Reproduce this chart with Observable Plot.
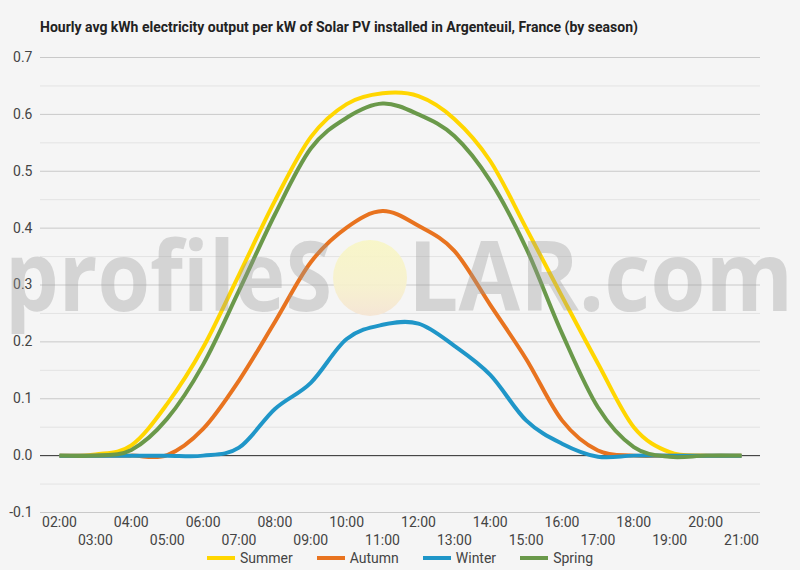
<!DOCTYPE html>
<html>
<head>
<meta charset="utf-8">
<script src="https://cdn.jsdelivr.net/npm/d3@7"></script>
<script src="https://cdn.jsdelivr.net/npm/@observablehq/plot@0.6"></script>
<style>
  html, body { margin: 0; padding: 0; background: #f5f5f5; width: 800px; height: 570px; overflow: hidden; }
  #title { height: 45px; box-sizing: border-box; padding: 19px 0 0 40px; font: bold 14px Roboto, sans-serif; line-height: 17px; color: #222; white-space: nowrap; }
  #chart svg { display: block; }
  #legend { height: 16px; display: flex; justify-content: center; align-items: center; font: 14px Roboto, sans-serif; color: #444; line-height: 16px; }
  .item { display: flex; align-items: center; margin: 0 12px; }
  .sw { width: 28px; height: 4px; margin-right: 5px; }
</style>
</head>
<body>
<div id="title">Hourly avg kWh electricity output per kW of Solar PV installed in Argenteuil, France (by season)</div>
<div id="chart"></div>
<div id="legend"></div>
<script>
const hours = ["02:00","03:00","04:00","05:00","06:00","07:00","08:00","09:00","10:00","11:00","12:00","13:00","14:00","15:00","16:00","17:00","18:00","19:00","20:00","21:00"];
const evenHours = ["02:00","04:00","06:00","08:00","10:00","12:00","14:00","16:00","18:00","20:00"];
const oddHours = ["03:00","05:00","07:00","09:00","11:00","13:00","15:00","17:00","19:00","21:00"];
const seasons = ["Summer","Autumn","Winter","Spring"];
const seasonColors = ["#ffd600","#e8731f","#1f96c8","#6a994a"];
const summer = [0, 0.002, 0.018, 0.091, 0.19, 0.318, 0.448, 0.56, 0.618, 0.637, 0.632, 0.592, 0.518, 0.40, 0.28, 0.162, 0.05, 0.006, 0, 0];
const autumn = [0, 0, 0, 0.001, 0.047, 0.132, 0.235, 0.34, 0.401, 0.43, 0.404, 0.36, 0.265, 0.17, 0.062, 0.009, 0, 0, 0, 0];
const winter = [0, 0, 0, 0, 0, 0.014, 0.082, 0.128, 0.205, 0.23, 0.232, 0.193, 0.142, 0.062, 0.021, -0.002, 0, 0, 0, 0];
const spring = [0, 0, 0.01, 0.065, 0.16, 0.29, 0.424, 0.54, 0.594, 0.619, 0.60, 0.562, 0.483, 0.365, 0.215, 0.085, 0.015, -0.002, 0, 0];
const yTicks = [-0.1, 0, 0.1, 0.2, 0.3, 0.4, 0.5, 0.6, 0.7];
const yMinor = [-0.05, 0.05, 0.15, 0.25, 0.35, 0.45, 0.55, 0.65];

const hourNum = h => +h.slice(0, 2);
const hourLabel = n => String(n).padStart(2, "0") + ":00";
const series = [summer, autumn, winter, spring];
const data = seasons.flatMap((s, i) => series[i].map((v, j) => ({season: s, hour: hourNum(hours[j]), value: v})));
const first = hourNum(hours[0]), last = hourNum(hours[hours.length - 1]);

const chart = Plot.plot({
  width: 800,
  height: 505,
  marginTop: 12,
  marginBottom: 38,
  marginLeft: 40,
  marginRight: 40,
  style: {background: "transparent", fontFamily: "Roboto, sans-serif"},
  x: {domain: [first - 0.53, last + 0.53], axis: null, label: null},
  y: {domain: [-0.1, 0.7], axis: null, label: null},
  color: {domain: seasons, range: seasonColors},
  marks: [
    Plot.ruleY(yMinor, {stroke: "#e3e3e3", strokeWidth: 1}),
    Plot.ruleY(yTicks, {stroke: "#c9c9c9", strokeWidth: 1}),
    Plot.ruleY([0], {stroke: "#333", strokeWidth: 1}),
    Plot.axisY({ticks: yTicks, tickSize: 0, tickPadding: 8, tickFormat: d => d.toFixed(1), fontSize: 14, fill: "#444", label: null}),
    Plot.axisX({ticks: evenHours.map(hourNum), tickSize: 0, tickPadding: 5, tickFormat: hourLabel, fontSize: 14, fill: "#444", label: null}),
    Plot.axisX({ticks: oddHours.map(hourNum), tickSize: 0, tickPadding: 23, tickFormat: hourLabel, fontSize: 14, fill: "#444", label: null}),
    Plot.line(data, {x: "hour", y: "value", z: "season", stroke: "season", strokeWidth: 4, curve: "cardinal", strokeLinecap: "butt"})
  ]
});
document.getElementById("chart").appendChild(chart);

// watermark
const svg = d3.select(chart);
const defs = svg.append("defs");
const grad = defs.append("linearGradient").attr("id", "sun").attr("x1", 0).attr("y1", 0).attr("x2", 0).attr("y2", 1);
grad.append("stop").attr("offset", "0%").attr("stop-color", "#f8f6c4");
grad.append("stop").attr("offset", "60%").attr("stop-color", "#f7f1cc");
grad.append("stop").attr("offset", "100%").attr("stop-color", "#f5e4d2");
const wm = svg.append("g").attr("pointer-events", "none").attr("text-anchor", "start");
wm.append("ellipse").attr("cx", 370).attr("cy", 233).attr("rx", 37).attr("ry", 38).attr("fill", "url(#sun)").attr("opacity", 0.9);
const wmStyle = t => t.attr("font-family", "'Open Sans', sans-serif").attr("font-weight", 700).attr("font-size", 96)
  .attr("fill", "#999").attr("fill-opacity", 0.35).attr("text-anchor", "start").attr("lengthAdjust", "spacingAndGlyphs");
wm.append("text").text("profileS").attr("x", 5).attr("y", 266).attr("textLength", 327).call(wmStyle);
wm.append("text").text("LAR.com").attr("x", 408).attr("y", 266).attr("textLength", 385).call(wmStyle);

// legend
const legend = d3.select("#legend");
seasons.forEach((s, i) => {
  const it = legend.append("div").attr("class", "item");
  it.append("div").attr("class", "sw").style("background", seasonColors[i]);
  it.append("span").text(s);
});
</script>
</body>
</html>
